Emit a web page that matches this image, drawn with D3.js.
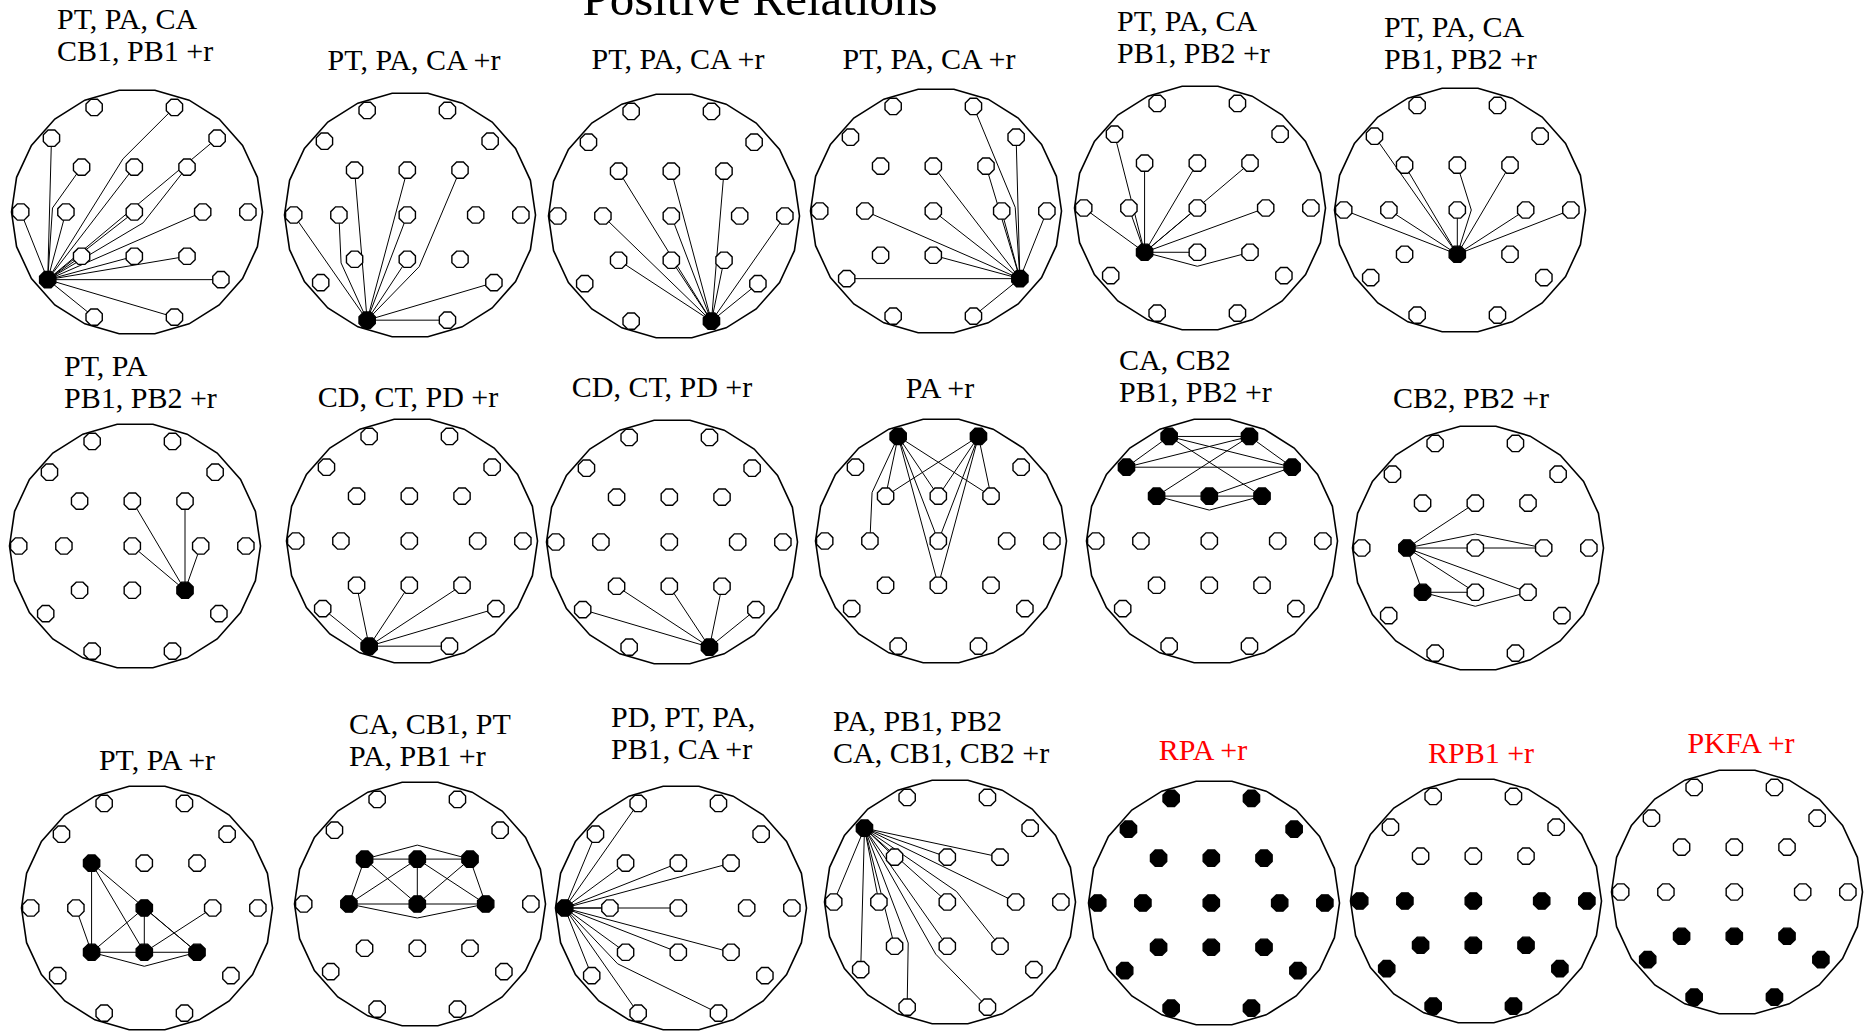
<!DOCTYPE html>
<html>
<head>
<meta charset="utf-8">
<script src="https://cdn.jsdelivr.net/npm/d3@7"></script>
<style>
  body { margin: 0; background: #fff; }
  svg { display: block; }
  text { font-family: "Liberation Serif", "Times New Roman", serif; }
</style>
</head>
<body>
<script>
// 10-20 montage, head coordinates (-1..1 across the head outline)
const electrodes = ["Fp1", "Fp2", "F7", "F3", "Fz", "F4", "F8", "T3", "C3", "Cz", "C4", "T4", "T5", "P3", "Pz", "P4", "T6", "O1", "O2"]
const electrodeX = [-0.32, 0.32, -0.66, -0.42, 0, 0.42, 0.66, -0.905, -0.545, 0, 0.545, 0.905, -0.69, -0.42, 0, 0.42, 0.69, -0.32, 0.32]
const electrodeY = [-0.85, -0.85, -0.6, -0.365, -0.365, -0.365, -0.6, 0, 0, 0, 0, 0, 0.55, 0.36, 0.36, 0.36, 0.55, 0.855, 0.855]

const chartTitle = "Positive Relations"

const titles = [
    ["PT, PA, CA", "CB1, PB1 +r"],
    ["PT, PA, CA +r"],
    ["PT, PA, CA +r"],
    ["PT, PA, CA +r"],
    ["PT, PA, CA", "PB1, PB2 +r"],
    ["PT, PA, CA", "PB1, PB2 +r"],
    ["PT, PA", "PB1, PB2 +r"],
    ["CD, CT, PD +r"],
    ["CD, CT, PD +r"],
    ["PA +r"],
    ["CA, CB2", "PB1, PB2 +r"],
    ["CB2, PB2 +r"],
    ["PT, PA +r"],
    ["CA, CB1, PT", "PA, PB1 +r"],
    ["PD, PT, PA,", "PB1, CA +r"],
    ["PA, PB1, PB2", "CA, CB1, CB2 +r"],
    ["RPA +r"],
    ["RPB1 +r"],
    ["PKFA +r"]
]

// significant electrodes (drawn filled)
const filled = [
    ["T5"],
    ["O1"],
    ["O2"],
    ["T6"],
    ["P3"],
    ["Pz"],
    ["P4"],
    ["O1"],
    ["O2"],
    ["Fp1", "Fp2"],
    ["Fp1", "Fp2", "F7", "F8", "F3", "Fz", "F4"],
    ["C3", "P3"],
    ["F3", "Cz", "P3", "Pz", "P4"],
    ["F3", "Fz", "F4", "C3", "Cz", "C4"],
    ["T3"],
    ["F7"],
    electrodes.slice(),
    ["T3", "C3", "Cz", "C4", "T4", "T5", "P3", "Pz", "P4", "T6", "O1", "O2"],
    ["T5", "P3", "Pz", "P4", "T6", "O1", "O2"]
]

// electrodes missing from a map
const missing = [[], [], [], ["P4"], [], [], [], [], [], [], [], [], [], [], [], [], [], [], []]

// connections: [from, to, detour side] (detour: line is routed around the electrode it would cross)
const links = [
    [["T5", "T3"], ["T5", "F7"], ["T5", "F3", -1], ["T5", "C3"], ["T5", "Fz"], ["T5", "Cz"], ["T5", "Fp2", -1], ["T5", "F8"],
     ["T5", "F4", 1], ["T5", "C4"], ["T5", "P3"], ["T5", "Pz"], ["T5", "P4"], ["T5", "T6"], ["T5", "O1"], ["T5", "O2"]],
    [["O1", "T3"], ["O1", "C3", -1], ["O1", "F3"], ["O1", "Fz"], ["O1", "Cz"], ["O1", "F4", 1], ["O1", "Pz"], ["O1", "T6"], ["O1", "O2"]],
    [["O2", "F3"], ["O2", "C3"], ["O2", "P3"], ["O2", "Fz"], ["O2", "Cz"], ["O2", "Pz"], ["O2", "F4"], ["O2", "P4"], ["O2", "T4"], ["O2", "T6"]],
    [["T6", "Fp2", 1], ["T6", "F8"], ["T6", "Fz"], ["T6", "F4"], ["T6", "C3"], ["T6", "Cz"], ["T6", "C4"], ["T6", "T4"], ["T6", "Pz"], ["T6", "T5"], ["T6", "O2"]],
    [["P3", "T3"], ["P3", "F7"], ["P3", "F3"], ["P3", "C3"], ["P3", "Fz"], ["P3", "Cz"], ["P3", "F4"], ["P3", "C4"], ["P3", "Pz"], ["P3", "P4", 1]],
    [["Pz", "T3"], ["Pz", "F7"], ["Pz", "F3"], ["Pz", "C3"], ["Pz", "Fz", 1], ["Pz", "Cz"], ["Pz", "F4"], ["Pz", "C4"], ["Pz", "T4"]],
    [["P4", "Fz"], ["P4", "F4"], ["P4", "Cz"], ["P4", "C4"]],
    [["O1", "T5"], ["O1", "P3"], ["O1", "Pz"], ["O1", "P4"], ["O1", "T6"], ["O1", "O2"]],
    [["O2", "T5"], ["O2", "P3"], ["O2", "Pz"], ["O2", "P4"], ["O2", "T6"]],
    [["Fp1", "F3"], ["Fp1", "C3", 1], ["Fp1", "Fz"], ["Fp1", "F4"], ["Fp1", "Cz"], ["Fp1", "Pz"],
     ["Fp2", "F3"], ["Fp2", "Fz"], ["Fp2", "F4"], ["Fp2", "Cz"], ["Fp2", "Pz"]],
    [["Fp1", "Fp2"], ["Fp1", "F7"], ["Fp1", "F8"], ["Fp1", "F4"], ["Fp2", "F7"], ["Fp2", "F3"], ["Fp2", "F8"],
     ["F7", "F8"], ["F3", "Fz"], ["Fz", "F4"], ["F3", "F4", 1], ["Fz", "F8"]],
    [["C3", "Fz"], ["C3", "Cz"], ["Cz", "C4"], ["C3", "C4", -1], ["C3", "P3"], ["C3", "Pz"], ["C3", "P4"], ["P3", "Pz"], ["P3", "P4", 1]],
    [["F3", "P3"], ["F3", "Pz"], ["F3", "P4"], ["Cz", "P3"], ["Cz", "Pz"], ["Cz", "P4"], ["P3", "Pz"], ["Pz", "P4"], ["P3", "P4", 1], ["C3", "P3"], ["Pz", "C4"]],
    [["F3", "Fz"], ["Fz", "F4"], ["F3", "F4", -1], ["F3", "C3"], ["F3", "Cz"], ["Fz", "C3"], ["Fz", "Cz"], ["Fz", "C4"],
     ["F4", "Cz"], ["F4", "C4"], ["C3", "Cz"], ["Cz", "C4"], ["C3", "C4", 1]],
    [["T3", "Fp1"], ["T3", "F7"], ["T3", "F3"], ["T3", "Fz"], ["T3", "F4"], ["T3", "C3"], ["T3", "Cz"], ["T3", "P3"],
     ["T3", "Pz"], ["T3", "P4"], ["T3", "T5"], ["T3", "O1"], ["T3", "O2", 1]],
    [["F7", "T3"], ["F7", "T5"], ["F7", "C3"], ["F7", "P3"], ["F7", "O1", -1], ["F7", "F3"], ["F7", "Fz"], ["F7", "F4"],
     ["F7", "Cz"], ["F7", "C4"], ["F7", "Pz"], ["F7", "P4", -1], ["F7", "O2", 1]],
    [],
    [],
    []
]

// ---- layout ----
var width = 1864,
    height = 1032;

var panels = [
    { cx: 137, cy: 212, tx: 57, ty: 61, anchor: "start" },
    { cx: 410, cy: 215, tx: 414, ty: 70, anchor: "middle" },
    { cx: 674, cy: 216, tx: 678, ty: 69, anchor: "middle" },
    { cx: 936, cy: 211, tx: 929, ty: 69, anchor: "middle" },
    { cx: 1200, cy: 208, tx: 1117, ty: 63, anchor: "start" },
    { cx: 1460, cy: 210, tx: 1384, ty: 69, anchor: "start" },
    { cx: 135, cy: 546, tx: 64, ty: 408, anchor: "start" },
    { cx: 412, cy: 541, tx: 408, ty: 407, anchor: "middle" },
    { cx: 672, cy: 542, tx: 662, ty: 397, anchor: "middle" },
    { cx: 941, cy: 541, tx: 940, ty: 398, anchor: "middle" },
    { cx: 1212, cy: 541, tx: 1119, ty: 402, anchor: "start" },
    { cx: 1478, cy: 548, tx: 1471, ty: 408, anchor: "middle" },
    { cx: 147, cy: 908, tx: 157, ty: 770, anchor: "middle" },
    { cx: 420, cy: 904, tx: 349, ty: 766, anchor: "start" },
    { cx: 681, cy: 908, tx: 611, ty: 759, anchor: "start" },
    { cx: 950, cy: 902, tx: 833, ty: 763, anchor: "start" },
    { cx: 1214, cy: 903, tx: 1203, ty: 760, anchor: "middle", color: "#ff0000" },
    { cx: 1476, cy: 901, tx: 1481, ty: 763, anchor: "middle", color: "#ff0000" },
    { cx: 1737, cy: 892, tx: 1741, ty: 753, anchor: "middle", color: "#ff0000" }
]

const RX = 125.5, RY = 123, GRID_SHIFT = -2.7
const ELEC_R = 8.8, DETOUR = 14, LINE_GAP = 32

var svg = d3
    .select("body")
    .append("svg")
    .attr("width", width)
    .attr("height", height);

svg.append("text")
    .attr("x", 760)
    .attr("y", 15)
    .attr("text-anchor", "middle")
    .attr("font-size", 49)
    .text(chartTitle);

var closedLine = d3.line().curve(d3.curveLinearClosed)

// octagon around a point
const octagon = (x, y, r) => d3.range(8).map(k => {
    const a = Math.PI / 8 + k * Math.PI / 4
    return [x + r * Math.cos(a), y + r * Math.sin(a)]
})

panels.forEach((p, i) => {
    const rx = p.rx || RX
    const x = d3.scaleLinear().domain([-1, 1]).range([p.cx - rx + GRID_SHIFT, p.cx + rx + GRID_SHIFT])
    const y = d3.scaleLinear().domain([-1, 1]).range([p.cy - RY, p.cy + RY])
    const hx = d3.scaleLinear().domain([-1, 1]).range([p.cx - rx, p.cx + rx])

    var g = svg.append("g").attr("class", "panel")

    // head outline (a coarse polygon, like the original)
    const nSides = 22
    const outline = d3.range(nSides).map(k => {
        const a = (k + 0.5) * 2 * Math.PI / nSides
        return [hx(Math.sin(a)), y(-Math.cos(a))]
    })
    g.append("path")
        .attr("d", closedLine(outline))
        .attr("fill", "none")
        .attr("stroke", "#000")
        .attr("stroke-width", 1.6);

    // title
    var t = g.append("text")
        .attr("text-anchor", p.anchor)
        .attr("font-size", 30)
        .attr("fill", p.color || "#000")
    const lines = titles[i]
    lines.forEach((s, j) => {
        t.append("tspan")
            .attr("x", p.tx)
            .attr("y", p.ty - (lines.length - 1 - j) * LINE_GAP)
            .text(s)
    })

    const pos = name => {
        const k = electrodes.indexOf(name)
        return [x(electrodeX[k]), y(electrodeY[k])]
    }
    const shown = electrodes.filter(e => !missing[i].includes(e))

    // connections
    const route = ([a, b, side]) => {
        const pa = pos(a), pb = pos(b)
        if (!side) return [pa, pb]
        const dx = pb[0] - pa[0], dy = pb[1] - pa[1]
        const len = Math.hypot(dx, dy)
        const ux = dx / len, uy = dy / len
        // electrode the straight line would cross
        var best = null, bestD = Infinity
        shown.forEach(e => {
            if (e == a || e == b) return
            const q = pos(e)
            const tt = ((q[0] - pa[0]) * ux + (q[1] - pa[1]) * uy) / len
            if (tt < 0.08 || tt > 0.92) return
            const d = Math.abs((q[0] - pa[0]) * uy - (q[1] - pa[1]) * ux)
            if (d < bestD) { bestD = d; best = q }
        })
        if (!best) return [pa, pb]
        const via = [best[0] - uy * side * DETOUR, best[1] + ux * side * DETOUR]
        return [pa, via, pb]
    }

    g.selectAll(".link")
        .data(links[i])
        .join("path")
        .attr("class", "link")
        .attr("d", d => d3.line()(route(d)))
        .attr("fill", "none")
        .attr("stroke", "#000")
        .attr("stroke-width", 1);

    // electrodes
    g.selectAll(".electrode")
        .data(shown)
        .join("path")
        .attr("class", "electrode")
        .attr("d", e => {
            const [ex, ey] = pos(e)
            return closedLine(octagon(ex, ey, ELEC_R))
        })
        .attr("fill", e => filled[i].includes(e) ? "#000" : "#fff")
        .attr("stroke", "#000")
        .attr("stroke-width", 1.4);
})
</script>
</body>
</html>
